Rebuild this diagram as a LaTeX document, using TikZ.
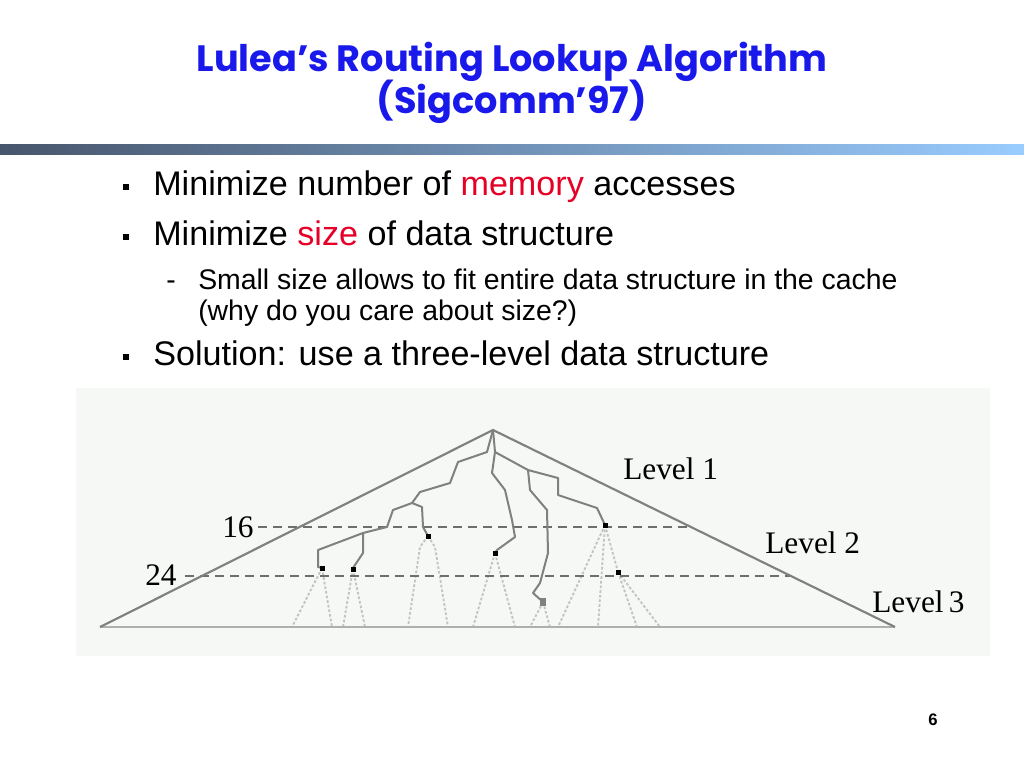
\documentclass[tikz,border=0pt]{standalone}
\usepackage{fontspec}
\setmainfont{Liberation Sans}
\newfontfamily\titlefont{Poppins}
\newfontfamily\figfont{Liberation Serif}
\definecolor{titleblue}{RGB}{25,25,235}
\definecolor{hired}{RGB}{230,0,40}
\definecolor{barL}{RGB}{72,86,108}
\definecolor{barR}{RGB}{153,204,255}
\definecolor{figbg}{RGB}{245,248,245}
\definecolor{treeg}{RGB}{128,128,128}
\definecolor{dashg}{RGB}{110,110,110}
\definecolor{faintg}{RGB}{195,195,195}
\definecolor{baseg}{RGB}{175,175,175}
\begin{document}
\begin{tikzpicture}[x=0.75pt,y=-0.75pt,
  titletext/.style={anchor=base,inner sep=0pt,text=titleblue,font=\titlefont\bfseries\fontsize{27.5}{32}\selectfont},
  body/.style={anchor=base west,inner sep=0pt,font=\fontsize{25.6}{30}\selectfont},
  subtext/.style={anchor=base west,inner sep=0pt,font=\fontsize{21.3}{25}\selectfont},
  lbl/.style={anchor=base west,inner sep=0pt,font=\figfont\fontsize{23.5}{27}\selectfont},
  bulletsq/.style={fill=black},
  tri/.style={draw=treeg,line width=1.6pt},
  baseln/.style={draw=baseg,line width=1.6pt},
  levelln/.style={draw=dashg,line width=1.5pt,dash pattern=on 6.75pt off 4.5pt},
  treeln/.style={draw=treeg,line width=1.5pt,line join=round},
  faintln/.style={draw=faintg,line width=1.4pt,dash pattern=on 2pt off 1.5pt},
  dotsq/.style={fill=black}
]
\useasboundingbox[fill=white] (0,0) rectangle (1024,768);

% title
\node[titletext] (t1) at (512,71) {Lulea’s Routing Lookup Algorithm};
\node[titletext] (t2) at (512,113) {(Sigcomm’97)};

% gradient bar
\shade[left color=barL,right color=barR] (0,144) rectangle (1024,154);

% bullets
\fill[bulletsq] (123,184) rectangle (129,190);
\node[body] (b1) at (153,195) {Minimize number of \textcolor{hired}{memory} accesses};
\fill[bulletsq] (123,234) rectangle (129,240);
\node[body] (b2) at (153,245) {Minimize \textcolor{hired}{size} of data structure};
\node[subtext] (d1) at (166,289) {-};
\node[subtext] (s1) at (198,289) {Small size allows to fit entire data structure in the cache};
\node[subtext] (s2) at (198,320) {(why do you care about size?)};
\fill[bulletsq] (123,354) rectangle (129,360);
\node[body] (b3) at (153,365) {Solution: use a three-level data structure};

% figure
\fill[figbg] (76,388) rectangle (990,656);

% faint lower-level lines
\draw[faintln] (322,568) -- (292,627);
\draw[faintln] (322,568) -- (332,627);
\draw[faintln] (353,569) -- (343,627);
\draw[faintln] (353,569) -- (365,627);
\draw[faintln] (428,536) -- (420,547) -- (408,627);
\draw[faintln] (428,536) -- (435,547) -- (448,627);
\draw[faintln] (495,553) -- (473,627);
\draw[faintln] (495,553) -- (515,627);
\draw[faintln] (543,602) -- (530,627);
\draw[faintln] (543,602) -- (550,627);
\draw[faintln] (605,525) -- (558,627);
\draw[faintln] (605,525) -- (598,627);
\draw[faintln] (605,525) -- (618,572);
\draw[faintln] (618,572) -- (637,627);
\draw[faintln] (618,572) -- (660,627);

% level lines
\draw[levelln] (258,527) -- (693,527);
\draw[levelln] (185,576) -- (791,576);

% triangle
\draw[baseln] (100,627) -- (895,627);
\draw[tri] (100,627) -- (493,430) -- (895,627);

% tree paths
\draw[treeln] (493,430) -- (487,452) -- (458,462) -- (450,483) -- (420,492) -- (412,503) -- (393,510) -- (387,527) -- (363,533) -- (318,550) -- (318,567) -- (322,568);
\draw[treeln] (363,533) -- (363,553) -- (353,568);
\draw[treeln] (412,503) -- (422,507) -- (423,527) -- (428,536);
\draw[treeln] (493,430) -- (495,452) -- (492,473) -- (505,490) -- (512,520) -- (515,537) -- (497,550) -- (495,553);
\draw[treeln] (495,452) -- (528,470) -- (530,490) -- (547,510) -- (548,553) -- (540,583) -- (533,593) -- (543,602);
\draw[treeln] (528,470) -- (558,478) -- (558,495) -- (597,508) -- (605,525);

% dots
\foreach \p in {(322,568),(353,569),(428,536),(495,553),(605,525),(618,572)}
  \fill[dotsq] \p ++(-2.5,-2.5) rectangle ++(5,5);
\fill[treeg] (543,602) ++(-3,-4) rectangle ++(6,8);

% labels
\node[lbl] (l16) at (222,537) {16};
\node[lbl] (l24) at (145,585) {24};
\node[lbl] (lv1) at (623,479) {Level 1};
\node[lbl] (lv2) at (765,553) {Level 2};
\node[lbl] (lv3) at (872,612) {Level\,3};

% page number
\node[anchor=base,inner sep=0pt,font=\bfseries\fontsize{12.5}{14}\selectfont] (pg) at (933,725) {6};
\end{tikzpicture}
\end{document}
